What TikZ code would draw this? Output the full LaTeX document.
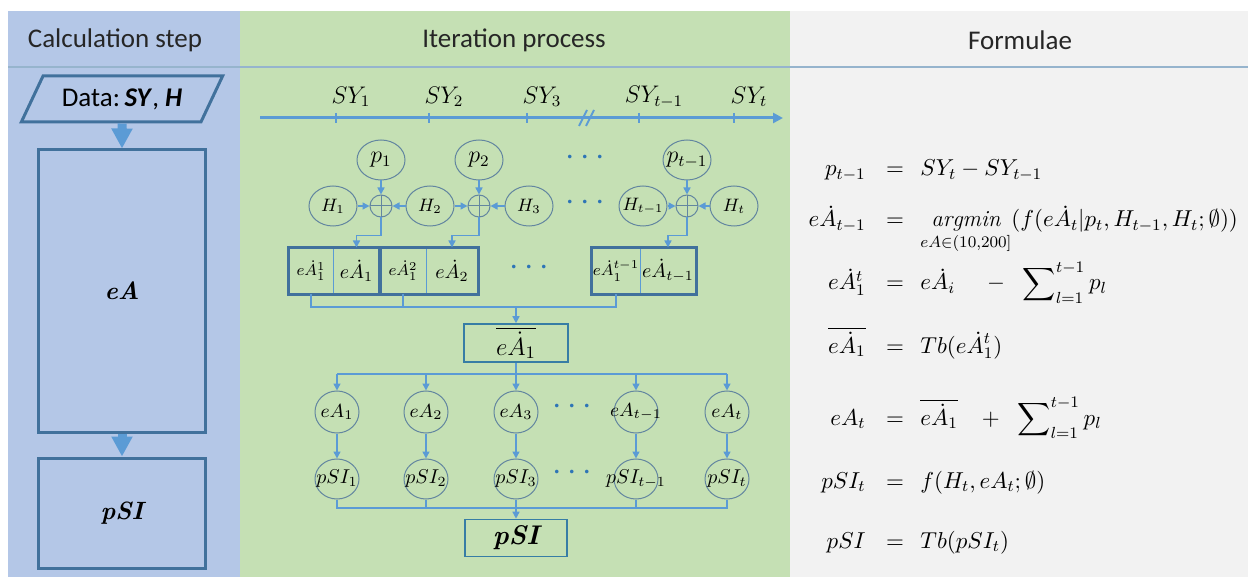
\RequirePackage{fix-cm}
\documentclass[tikz,border=0pt]{standalone}
\usepackage{amsmath}
\usepackage{amssymb}
\usepackage{fontspec}
\newfontfamily\calib{Carlito}
\usetikzlibrary{positioning,arrows.meta,shapes.geometric,fit}

\definecolor{panelblue}{RGB}{180,199,231}
\definecolor{panelgreen}{RGB}{197,224,180}
\definecolor{panelgray}{RGB}{242,242,242}
\definecolor{hdline}{RGB}{150,180,205}
\definecolor{boxdark}{RGB}{65,113,156}
\definecolor{arrowblue}{RGB}{91,155,213}
\definecolor{ellcol}{RGB}{99,134,160}
\definecolor{resbox}{RGB}{55,125,165}
\definecolor{dotblue}{RGB}{46,117,182}

\newcommand{\inell}[1]{\makebox[0pt]{$#1$}}

\begin{document}
\begin{tikzpicture}[x=0.5pt, y=-0.5pt,
  hd/.style={font=\calib\fontsize{13.5}{16}\selectfont, text=black!85},
  datab/.style={trapezium, trapezium left angle=52, trapezium right angle=128,
                trapezium stretches=true, draw=boxdark, line width=1.5pt,
                minimum width=101pt, minimum height=23pt, inner sep=0pt,
                font=\calib\fontsize{13.5}{15}\selectfont},
  stepbox/.style={draw=boxdark, line width=1.5pt, inner sep=0pt, minimum width=83.5pt,
                  font=\fontsize{12.5}{14}\selectfont\bfseries\itshape},
  bigarr/.style={-{Triangle[length=10pt,width=10pt]}, line width=4.5pt, arrowblue},
  axis/.style={-{Triangle[length=5pt,width=5pt]}, line width=1.5pt, arrowblue},
  tk/.style={line width=1pt, arrowblue},
  lbl/.style={font=\fontsize{12}{14}\selectfont},
  var/.style={ellipse, draw=ellcol, line width=0.5pt, inner sep=0pt,
              minimum width=24pt, minimum height=20pt},
  sumnode/.style={circle, draw=ellcol, line width=0.5pt, minimum size=11pt, inner sep=0pt,
    path picture={\draw[ellcol, line width=0.5pt]
      (path picture bounding box.north) -- (path picture bounding box.south)
      (path picture bounding box.east) -- (path picture bounding box.west);}},
  cell/.style={draw=arrowblue, line width=0.5pt, inner sep=0pt, minimum height=23pt},
  grp/.style={draw=boxdark, line width=1.2pt, inner sep=0pt},
  res/.style={draw=resbox, line width=0.8pt, inner sep=0pt},
  arr/.style={-{Triangle[length=3.5pt,width=3.5pt]}, line width=0.75pt, arrowblue},
  ln/.style={line width=0.75pt, arrowblue},
  dts/.style={text=dotblue, font=\fontsize{17}{18}\selectfont},
  fl/.style={font=\fontsize{11.5}{13}\selectfont, inner sep=0pt},
]
\useasboundingbox (0,0) rectangle (1248,577);
\fill[white] (0,0) rectangle (1248,577);

% three columns and header rule
\fill[panelblue] (8,11) rectangle (240,577);
\fill[panelgreen] (240,11) rectangle (790,577);
\fill[panelgray] (790,11) rectangle (1248,577);
\draw[hdline, line width=0.8pt] (8,67) -- (1248,67);
\node[hd] (h-calc) at (115,40) {Calculation step};
\node[hd] (h-iter) at (514,40) {Iteration process};
\node[hd] (h-form) at (1020,40) {Formulae};

% calculation steps
\node[datab] (data) at (122,99) {Data:\,\textbf{\textit{SY}}, \textbf{\textit{H}}};
\node[stepbox, minimum height=141pt] (stepA) at (122,291) {eA};
\node[stepbox, minimum height=55pt] (stepP) at (122,513) {pSI};
\draw[bigarr] (data.south) -- (stepA.north);
\draw[bigarr] (stepA.south) -- (stepP.north);

% time axis
\coordinate (ax0) at (260,118);
\coordinate (ax1) at (783,118);
\draw[axis] (ax0) -- (ax1);
\foreach \x/\s [count=\k] in {336/1,429/2,527/3,639/{t-1},734/t}{
  \draw[tk] (\x,113) -- (\x,123);
  \node[lbl] (sy\k) at (\x+15,97) {$SY_{\s}$};
}
\draw[tk] (579,126) -- (587,110) (586,126) -- (594,110);

% increments, heights and their sums
\foreach \x/\s [count=\k] in {381/1,479/2,687/{t-1}}{
  \node[var, font=\fontsize{12}{14}\selectfont] (p\k) at (\x,160) {\inell{p_{\s}}};
  \node[sumnode] (o\k) at (\x,206) {};
  \draw[arr] (p\k) -- (o\k);
}
\foreach \x/\s [count=\k] in {333/1,430/2,529/3,643/{t-1},734/t}
  \node[var, font=\fontsize{9}{11}\selectfont] (h\k) at (\x,206) {\inell{H_{\s}}};
\foreach \a/\b in {h1/o1,h2/o1,h2/o2,h3/o2,h4/o3,h5/o3}
  \draw[arr] (\a) -- (\b);

% candidate cells
\foreach \n/\x/\w/\s in {a1/311/22/1,a2/403/23/2,a3/616/24/{t-1}}
  \node[cell, minimum width=\w pt, font=\fontsize{8}{10}\selectfont] (\n) at (\x,271) {\makebox[\w pt]{$e\dot{A}_1^{\s}$}};
\foreach \n/\x/\w/\s in {b1/356.5/23.5/1,b2/452/26/2,b3/668/28/{t-1}}
  \node[cell, minimum width=\w pt, font=\fontsize{10}{12}\selectfont] (\n) at (\x,271) {$e\dot{A}_{\s}$};
\node[grp, fit=(a1)(b1)] (g1) {};
\node[grp, fit=(a2)(b2)] (g2) {};
\node[grp, fit=(a3)(b3)] (g3) {};
\foreach \k in {1,2,3}
  \draw[arr] (o\k.south) -- ++(0,18) -| (b\k.north);

\node[dts] (d1) at (588,158) {$\cdots$};
\node[dts] (d2) at (588,203) {$\cdots$};
\node[dts] (d3) at (532,268) {$\cdots$};

% collect into the mean value
\node[res, minimum width=52pt, minimum height=19pt, font=\fontsize{12.5}{14}\selectfont] (abar) at (516,343) {$\overline{e\dot{A}_1}$};
\coordinate (bus0) at (516,307);
\draw[ln] (a1.south) -- (a1.south |- bus0) -- (a3.south |- bus0) -- (a3.south);
\draw[ln] (a2.south) -- (a2.south |- bus0);
\draw[arr] (bus0) -- (abar.north);

% spread to every year
\foreach \x/\s [count=\k] in {337/1,426/2,516/3,636/{t-1},727/t}{
  \node[var, minimum width=22pt, minimum height=21pt, font=\fontsize{9.5}{11}\selectfont] (ea\k) at (\x,412) {\inell{eA_{\s}}};
  \node[var, minimum width=22pt, minimum height=20pt, font=\fontsize{10}{12}\selectfont] (ps\k) at (\x,479) {\inell{pSI_{\s}}};
  \draw[arr] (ea\k) -- (ps\k);
}
\node[dts] (d4) at (575,407) {$\cdots$};
\node[dts] (d5) at (575,473) {$\cdots$};
\coordinate (bus1) at (516,374);
\draw[ln] (abar) -- (bus1);
\draw[ln] (ea1.north |- bus1) -- (ea5.north |- bus1);
\foreach \k in {1,...,5}
  \draw[arr] (ea\k.north |- bus1) -- (ea\k);

\node[res, minimum width=51pt, minimum height=18.5pt, font=\fontsize{13.5}{15}\selectfont\bfseries\itshape] (pbox) at (516,538) {pSI};
\coordinate (bus2) at (516,508);
\draw[ln] (ps1.south) -- (ps1.south |- bus2) -- (ps5.south |- bus2) -- (ps5.south);
\foreach \k in {2,3,4}
  \draw[ln] (ps\k.south) -- (ps\k.south |- bus2);
\draw[arr] (bus2) -- (pbox.north);

% formulae
\foreach \y/\l/\r [count=\k] in {
  176/{p_{t-1}}/{SY_t-SY_{t-1}},
  227/{e\dot{A}_{t-1}}/{\mathop{\mathit{argmin}}\limits_{eA\in(10,200]}(f(e\dot{A}_t|p_t,H_{t-1},H_t;\emptyset))},
  290/{e\dot{A}_1^t}/{e\dot{A}_i\hspace{16pt}{-}\hspace{7pt}\sum\nolimits_{l=1}^{t-1}p_l},
  353/{\overline{e\dot{A}_1}}/{Tb(e\dot{A}_1^t)},
  425/{eA_t}/{\overline{e\dot{A}_1}\hspace{12pt}{+}\hspace{7pt}\sum\nolimits_{l=1}^{t-1}p_l},
  488/{pSI_t}/{f(H_t,eA_t;\emptyset)},
  548/{pSI}/{Tb(pSI_t)}}{
  \node[fl, anchor=base east] (lhs\k) at (866,\y) {$\l$};
  \node[fl, anchor=base] (eq\k) at (895,\y) {$=$};
  \node[fl, anchor=base west] (rhs\k) at (920,\y) {$\displaystyle\r$};
}
\end{tikzpicture}
\end{document}
